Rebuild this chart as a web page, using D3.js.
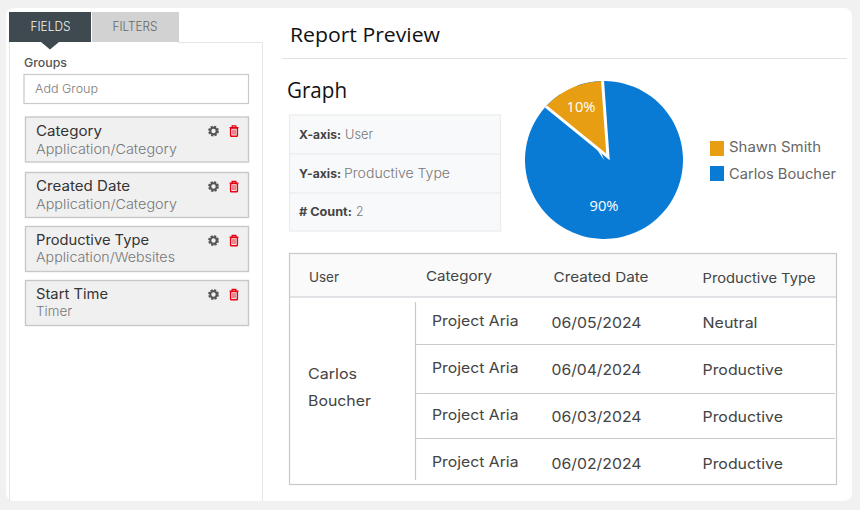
<!DOCTYPE html>
<html><head><meta charset="utf-8">
<script src="https://cdn.jsdelivr.net/npm/d3@7/dist/d3.min.js"></script>
<style>html,body{margin:0;padding:0;background:#f1f1f1}svg{display:block}</style>
</head><body><svg id="c" width="860" height="510"></svg>
<script>
// ---- data ----
const tabNames = ["FIELDS", "FILTERS"];
const groupFields = ["Category", "Created Date", "Productive Type", "Start Time"];
const groupSources = ["Application/Category", "Application/Category", "Application/Websites", "Timer"];
const infoKeys = ["X-axis:", "Y-axis:", "# Count:"];
const infoValues = ["User", "Productive Type", "2"];
const pieUsers = ["Shawn Smith", "Carlos Boucher"];
const pieShares = [13, 87];              // slice sizes as drawn in the picture
const pieLabels = ["10%", "90%"];
const tableHeaders = ["User", "Category", "Created Date", "Productive Type"];
const userName = ["Carlos", "Boucher"];
const rowCategories = ["Project Aria", "Project Aria", "Project Aria", "Project Aria"];
const rowDates = ["06/05/2024", "06/04/2024", "06/03/2024", "06/02/2024"];
const rowTypes = ["Neutral", "Productive", "Productive", "Productive"];

// ---- layout ----
const UI = "Inter, 'Noto Sans', sans-serif", HEAD = "'Open Sans', sans-serif";
const svg = d3.select("#c");
const T = (x, y, s, size, fill, w, opt = {}) => {
  const t = svg.append("text").attr("x", x).attr("y", y).text(s)
    .attr("font-family", opt.font || UI).attr("font-size", size).attr("fill", fill)
    .attr("font-weight", opt.weight || 400);
  if (w) t.attr("textLength", w).attr("lengthAdjust", "spacingAndGlyphs");
  if (opt.anchor) t.attr("text-anchor", opt.anchor);
  return t;
};
const R = (x, y, w, h, fill, stroke, sw = 1, r = 0) => svg.append("rect")
  .attr("x", x).attr("y", y).attr("width", w).attr("height", h).attr("rx", r)
  .attr("fill", fill).attr("stroke", stroke || "none").attr("stroke-width", sw);
const L = (x1, y1, x2, y2, c, sw = 1) => svg.append("line")
  .attr("x1", x1).attr("y1", y1).attr("x2", x2).attr("y2", y2).attr("stroke", c).attr("stroke-width", sw);

// card
R(6, 8, 846, 493, "#fff", null, 0, 8);

// left panel
L(9.5, 42, 9.5, 501, "#e6e6e6");
L(262.5, 42, 262.5, 501, "#e6e6e6");
L(178, 42.5, 263, 42.5, "#e6e6e6");
const tabX = [9, 92], tabW = [82, 87], tabFill = ["#3e4a4f", "#d2d2d2"], tabTxt = ["#f2f4f4", "#666"];
const tabTextX = [30.5, 112.5], tabTextW = [40, 45];
tabNames.forEach((n, i) => {
  R(tabX[i], 12, tabW[i], 30, tabFill[i]);
  T(tabTextX[i], 31, n, 12.5, tabTxt[i], tabTextW[i], {weight: 300});
});
svg.append("path").attr("d", "M41 42H59L50 49.5Z").attr("fill", "#3e4a4f");
T(24, 67, "Groups", 12, "#555", 43, {weight: 500});
R(24, 74.5, 224.5, 29, "#fff", "#c9c9c9", 1.2);
T(35, 93, "Add Group", 12, "#7a7a7a", 63, {weight: 300});

const itemTop = [117, 172.5, 226.5, 280.5];
const nameW = [66, 94, 113, 72], srcW = [141, 141, 139, 36];
const nameBase = [136, 191, 245, 299], srcBase = [154, 209, 262, 316];
groupFields.forEach((f, i) => {
  R(25.5, itemTop[i], 223, 45, "#f0f0f0", "#c8c8c8", 1.4);
  T(36, nameBase[i], f, 14, "#333", nameW[i]);
  T(36, srcBase[i], groupSources[i], 13.5, "#777", srcW[i], {weight: 300});
  const cy = itemTop[i] + 14;
  svg.append("circle").attr("cx", 213.5).attr("cy", cy).attr("r", 4.4).attr("fill", "none")
    .attr("stroke", "#555").attr("stroke-width", 2).attr("stroke-dasharray", "2.2 1.25");
  svg.append("circle").attr("cx", 213.5).attr("cy", cy).attr("r", 3.2).attr("fill", "none")
    .attr("stroke", "#555").attr("stroke-width", 2);
  svg.append("path").attr("d", `M229.5 ${cy-3.4}h9M232.2 ${cy-3.8}v-1.4h3.6v1.4`).attr("stroke", "#e60012")
    .attr("stroke-width", 1.3).attr("fill", "none");
  svg.append("rect").attr("x", 230.6).attr("y", cy - 3).attr("width", 6.8).attr("height", 8.2).attr("rx", .8)
    .attr("fill", "none").attr("stroke", "#e60012").attr("stroke-width", 1.4);
  svg.append("path").attr("d", `M233 ${cy-1.4}v5M235 ${cy-1.4}v5`).attr("stroke", "#e60012").attr("stroke-width", .9);
});

// right panel head
T(290, 42, "Report Preview", 20, "#111", 150, {font: HEAD});
L(282, 58.5, 847, 58.5, "#e2e2e2");
T(287, 98, "Graph", 21, "#111", 60, {font: HEAD});

// info box
R(289.5, 115, 211, 116, "#f8f9fa", "#ececec", 1.2);
L(290, 154, 500, 154, "#eeeeee", 1.5);
L(290, 193, 500, 193, "#eeeeee", 1.5);
const infoBase = [139, 178, 216], keyW = [42, 42, 53], valX = [345, 344, 356], valW = [28, 106, 7.5];
infoKeys.forEach((k, i) => {
  T(299, infoBase[i], k, 12, "#444", keyW[i], {weight: 700});
  T(valX[i], infoBase[i], infoValues[i], 13, "#777", valW[i], {weight: 300});
});

// pie
const cx = 604, cy = 160, rad = 79;
const deg = Math.PI / 180;
const slices = d3.pie().sort(null).startAngle(-50.9 * deg).endAngle(309.1 * deg)(pieShares);
const pieColors = d3.scaleOrdinal().domain(pieUsers).range(["#e79e13", "#0a7bd5"]);
const arc = d3.arc().innerRadius(0).outerRadius(rad);
svg.append("clipPath").attr("id", "pieClip").append("circle").attr("cx", cx).attr("cy", cy).attr("r", rad);
svg.append("path").attr("transform", `translate(${cx},${cy})`)
  .attr("d", arc({startAngle: slices[1].startAngle - .3, endAngle: slices[1].endAngle + .3}))
  .attr("fill", pieColors(pieUsers[1]));
svg.append("g").attr("clip-path", "url(#pieClip)").append("path")
  .attr("transform", "translate(608,157)")
  .attr("d", d3.arc().innerRadius(0).outerRadius(rad + 12)(slices[0]))
  .attr("fill", pieColors(pieUsers[0])).attr("stroke", "#fff").attr("stroke-width", 3);
const labelX = [581, 604], labelY = [112, 211];
pieLabels.forEach((l, i) => T(labelX[i] - 14.5, labelY[i], l, 14, "#fff", 29, {font: HEAD}));

// legend
const legY = [141, 166], legBase = [152, 179], legW = [92, 107];
pieUsers.forEach((u, i) => {
  R(710, legY[i], 14, 15, pieColors(u));
  T(729, legBase[i], u, 14, "#666", legW[i]);
});

// table
R(289.5, 253.5, 547, 231, "#fff");
R(289.5, 253.5, 547, 43.5, "#fafafa");
const headX = [309, 426, 553.5, 702.5], headBase = [282, 281, 282, 283], headW = [30, 66, 95, 113];
tableHeaders.forEach((h, i) => T(headX[i], headBase[i], h, 13.5, "#444", headW[i]));
L(289.5, 297, 836.5, 297, "#c8c8cf", 1.2);
[344.5, 393.5, 438.5].forEach(y => L(415.5, y, 835, y, "#c8c8cf", 1.2));
L(415.5, 302, 415.5, 480, "#c8c8c8", 1.2);
R(289.5, 253.5, 547, 231, "none", "#c8c8c8", 1.2);
T(308, 379, userName[0], 14.5, "#444", 49);
T(308, 406, userName[1], 14.5, "#444", 63);
const catBase = [326, 373, 420, 467], valBase = [328, 375, 422, 469];
rowCategories.forEach((c, i) => {
  T(432, catBase[i], c, 14.5, "#444", 86.5);
  T(551.5, valBase[i], rowDates[i], 14.5, "#444", 90);
  T(702.5, valBase[i], rowTypes[i], 14.5, "#444", rowTypes[i] === "Neutral" ? 55 : 80.5);
});
</script></body></html>
